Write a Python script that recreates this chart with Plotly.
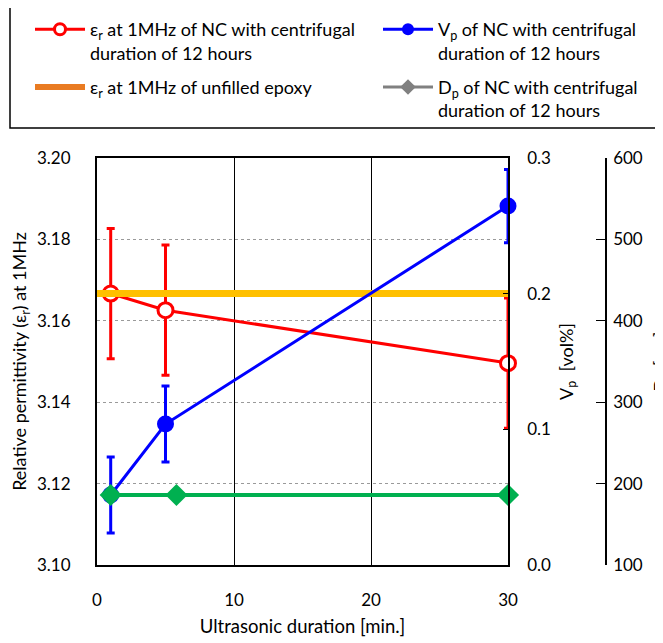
import plotly.graph_objects as go

# ---- data ----
x_eps = [1, 5, 30]
eps_nc = [3.1667, 3.1626, 3.1496]
eps_err = [0.016, 0.016, 0.016]

x_epoxy = [0, 30]
eps_epoxy = [3.1667, 3.1667]

x_vp = [1, 5, 30]
vp_nc = [0.0516, 0.1039, 0.2646]
vp_err = [0.028, 0.028, 0.027]

x_dp = [1, 5.8, 30]
dp_nc = [186, 186, 186]

FONT = "Lato"
OFF = 8  # page body margin
EXTRA = 35  # figure extends past the window on the right (clipped title like reference)
W, H = 663 - OFF + EXTRA, 643 - OFF
PL, PR, PT, PB = 97, 508, 158, 565   # plot box in screen px
ML = PL - OFF
MT = PT - OFF
MB = H - (PB - OFF)
MR = 30 + EXTRA
pw = W - ML - MR
ph = H - MT - MB


def px_x(sx):
    return (sx - PL) / pw


def px_y(sy):
    return 1 - (sy - PT) / ph


xdom_end = px_x(PR)
dp_pos = px_x(606)

fig = go.Figure()

leg_names = [
    "ε<sub>r</sub> at 1MHz of NC with centrifugal<br>duration of 12 hours",
    "V<sub>p</sub> of NC with centrifugal<br>duration of 12 hours",
    "ε<sub>r</sub> at 1MHz of unfilled epoxy",
    "D<sub>p</sub> of NC with centrifugal<br>duration of 12 hours",
]

fig.add_trace(go.Scatter(
    x=x_eps, y=eps_nc, mode="lines+markers", name=leg_names[0],
    line=dict(color="#FF0000", width=3),
    marker=dict(symbol="circle", size=15, color="white", line=dict(color="#FF0000", width=3)),
    error_y=dict(type="data", array=eps_err, color="#FF0000", thickness=3, width=4),
    showlegend=False, yaxis="y", cliponaxis=False))

fig.add_trace(go.Scatter(
    x=x_epoxy, y=eps_epoxy, mode="lines", name=leg_names[2],
    line=dict(color="#FFC000", width=7), showlegend=False, yaxis="y", cliponaxis=False))

fig.add_trace(go.Scatter(
    x=x_vp, y=vp_nc, mode="lines+markers", name=leg_names[1],
    line=dict(color="#0000FF", width=3),
    marker=dict(symbol="circle", size=17, color="#0000FF"),
    error_y=dict(type="data", array=vp_err, color="#0000FF", thickness=3, width=4),
    showlegend=False, yaxis="y2", cliponaxis=False))

fig.add_trace(go.Scatter(
    x=x_dp, y=dp_nc, mode="lines+markers", name=leg_names[3],
    line=dict(color="#00B050", width=4),
    marker=dict(symbol="diamond", size=17, color="#00B050"),
    showlegend=False, yaxis="y3", cliponaxis=False))

# legend entries (two columns -> two legends)
fig.add_trace(go.Scatter(x=[None], y=[None], mode="lines+markers", name=leg_names[0],
    legend="legend", legendgroup="a",
    line=dict(color="#FF0000", width=3),
    marker=dict(symbol="circle", size=11, color="white", line=dict(color="#FF0000", width=3))))
fig.add_trace(go.Scatter(x=[None], y=[None], mode="lines", name=leg_names[2],
    legend="legend", legendgroup="b",
    line=dict(color="#E97B22", width=6)))
fig.add_trace(go.Scatter(x=[None], y=[None], mode="lines+markers", name=leg_names[1],
    legend="legend2", legendgroup="c",
    line=dict(color="#0000FF", width=3),
    marker=dict(symbol="circle", size=12, color="#0000FF")))
fig.add_trace(go.Scatter(x=[None], y=[None], mode="lines+markers", name=leg_names[3],
    legend="legend2", legendgroup="d",
    line=dict(color="#808080", width=3),
    marker=dict(symbol="diamond", size=12, color="#808080")))

tickfont = dict(family=FONT, size=17, color="black")
legfont = dict(family=FONT, size=18, color="black")

leg_common = dict(
    orientation="v", xanchor="left", yanchor="top",
    borderwidth=0, bgcolor="rgba(0,0,0,0)",
    itemwidth=50, valign="top", traceorder="grouped", tracegroupgap=8,
    font=legfont,
)

fig.update_layout(
    width=W, height=H,
    margin=dict(l=ML, r=MR, t=MT, b=MB, autoexpand=False),
    paper_bgcolor="white", plot_bgcolor="white",
    font=dict(family=FONT, size=16, color="black"),
    showlegend=True,
    legend=dict(x=px_x(30), y=px_y(11), **leg_common),
    legend2=dict(x=px_x(378), y=px_y(11), **leg_common),
    shapes=[dict(type="rect", xref="paper", yref="paper",
                 x0=px_x(10), x1=px_x(656), y0=px_y(128), y1=px_y(6),
                 line=dict(color="black", width=1.5), fillcolor="rgba(0,0,0,0)",
                 layer="below")],
    xaxis=dict(
        domain=[0, xdom_end], range=[0, 30], dtick=10,
        showgrid=True, gridcolor="black", gridwidth=1,
        showline=True, linecolor="black", linewidth=2, mirror=True,
        ticks="", tickfont=tickfont, ticklabelstandoff=19,
        zeroline=False,
        title=dict(text="Ultrasonic duration [min.]", font=dict(family=FONT, size=18.5), standoff=11),
    ),
    yaxis=dict(
        range=[3.10, 3.20], dtick=0.02, tickformat=".2f",
        showgrid=True, gridcolor="#9A9A9A", griddash="dot", gridwidth=1,
        showline=True, linecolor="black", linewidth=2,
        ticks="", tickfont=tickfont, ticklabelstandoff=21,
        zeroline=False,
        title=dict(text="Relative permittivity (ε<sub>r</sub>) at 1MHz", font=dict(family=FONT, size=18), standoff=10),
    ),
    yaxis2=dict(
        overlaying="y", side="right", anchor="x",
        range=[0, 0.3], dtick=0.1, tickformat=".1f",
        showgrid=False, showline=True, linecolor="black", linewidth=1.5,
        ticks="inside", ticklen=5, tickcolor="black",
        tickfont=tickfont, ticklabelstandoff=14, zeroline=False,
        title=dict(text="V<sub>p</sub>  [vol%]", font=dict(family=FONT, size=18), standoff=10),
    ),
    yaxis3=dict(
        overlaying="y", side="right", anchor="free", position=dp_pos,
        range=[100, 600], dtick=100,
        showgrid=False, showline=True, linecolor="black", linewidth=1.5,
        ticks="inside", ticklen=9, tickcolor="black",
        tickfont=tickfont, ticklabelstandoff=3, zeroline=False,
        title=dict(text="D<sub>p</sub> [nm]", font=dict(family=FONT, size=18), standoff=12),
    ),
)

fig.write_html("out.html")
